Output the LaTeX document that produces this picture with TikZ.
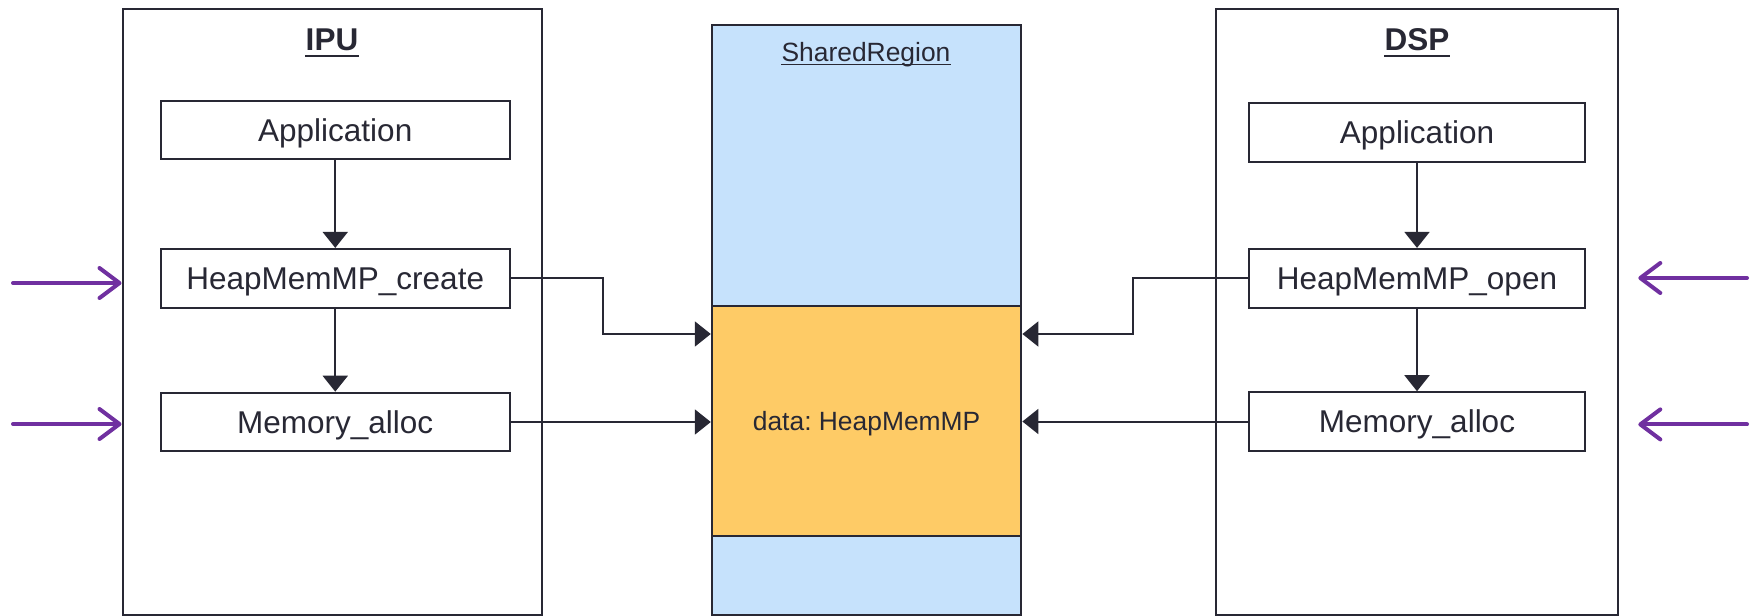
\documentclass[tikz,border=0pt]{standalone}
\usepackage{fontspec}
\setmainfont{Liberation Sans}
\usetikzlibrary{arrows.meta}
\frenchspacing

\definecolor{ink}{RGB}{40,40,52}
\definecolor{regionblue}{RGB}{198,226,252}
\definecolor{heaporange}{RGB}{254,203,102}
\definecolor{callpurple}{RGB}{112,48,160}

\begin{document}
\begin{tikzpicture}[x=0.5pt,y=-0.5pt,
  every node/.style={text=ink},
  frame/.style={draw=ink, line width=1pt, fill=white, inner sep=0pt},
  bigfont/.style={font=\fontsize{15.75}{18}\selectfont},
  smallfont/.style={font=\fontsize{13.2}{16}\selectfont},
  callbox/.style={frame, bigfont, text height=11.3pt, text depth=0pt, minimum height=29.3pt},
  title/.style={anchor=base, inner sep=0pt, font=\bfseries\fontsize{15.75}{18}\selectfont},
  flow/.style={draw=ink, line width=1pt, -{Triangle[length=8pt,width=12.5pt]}},
  entry/.style={draw=callpurple, line width=2pt, line cap=round, -{Straight Barb[length=10pt,width=15pt,round]}},
]
\fill[white] (0,0) rectangle (1752,616);
\useasboundingbox (0,0) rectangle (1752,616);

% processor frames and the shared memory region
\node[frame, minimum width=209.5pt, minimum height=303.2pt] (ipu) at (332,311.8) {};
\node[frame, fill=regionblue, minimum width=154.8pt, minimum height=295.1pt] (shared) at (866.6,319.9) {};
\node[frame, fill=heaporange, smallfont, text height=9.45pt, text depth=0pt,
      minimum width=154.8pt, minimum height=115.35pt] (data) at (866.6,421.05) {data: HeapMemMP};
\node[frame, minimum width=200.6pt, minimum height=303.2pt] (dsp) at (1417,311.8) {};

% underlined titles
\node[title] (ipuT) at (332,50.3) {IPU};
\draw[ink, line width=1.25pt] ([yshift=-2.75pt]ipuT.base west) -- ([yshift=-2.75pt]ipuT.base east);
\node[title] (dspT) at (1417,50.3) {DSP};
\draw[ink, line width=1.25pt] ([yshift=-2.75pt]dspT.base west) -- ([yshift=-2.75pt]dspT.base east);
\node[anchor=base, inner sep=0pt, smallfont] (sharedT) at (866,61.7) {SharedRegion};
\draw[ink, line width=0.6pt] ([yshift=-1.5pt]sharedT.base west) -- ([yshift=-1.5pt]sharedT.base east);

% IPU call chain
\node[callbox, minimum width=174.55pt] (ipuapp) at (335.25,130) {Application};
\node[callbox, minimum width=174.55pt] (ipucreate) at (335.25,278.2) {HeapMemMP\_create};
\node[callbox, minimum width=174.55pt] (ipumem) at (335.25,422) {Memory\_alloc};

% DSP call chain
\node[callbox, minimum width=168.3pt] (dspapp) at (1417,132.6) {Application};
\node[callbox, minimum width=168.3pt] (dspopen) at (1417,278.2) {HeapMemMP\_open};
\node[callbox, minimum width=168.3pt] (dspmem) at (1417,421.5) {Memory\_alloc};

% calls inside each processor
\draw[flow] (ipuapp.south) -- (ipucreate.north);
\draw[flow] (ipucreate.south) -- (ipumem.north);
\draw[flow] (dspapp.south) -- (dspopen.north);
\draw[flow] (dspopen.south) -- (dspmem.north);

% accesses to the shared heap
\coordinate (lbend) at (603,334);
\coordinate (rbend) at (1133,334);
\draw[flow] (ipucreate.east) -| (lbend) -- (lbend -| data.west);
\draw[flow] (ipumem.east) -- (ipumem.east -| data.west);
\draw[flow] (dspopen.west) -| (rbend) -- (rbend -| data.east);
\draw[flow] (dspmem.west) -- (dspmem.west -| data.east);

% external entry points
\coordinate (inA) at (13,283);
\coordinate (inB) at (13,424);
\coordinate (inC) at (1747,278);
\coordinate (tipC) at (1638.3,278);
\coordinate (inD) at (1747,424.4);
\coordinate (tipD) at (1638.3,424.4);
\draw[entry] (inA) -- (inA -| ipu.west);
\draw[entry] (inB) -- (inB -| ipu.west);
\draw[entry] (inC) -- (tipC);
\draw[entry] (inD) -- (tipD);
\end{tikzpicture}
\end{document}
